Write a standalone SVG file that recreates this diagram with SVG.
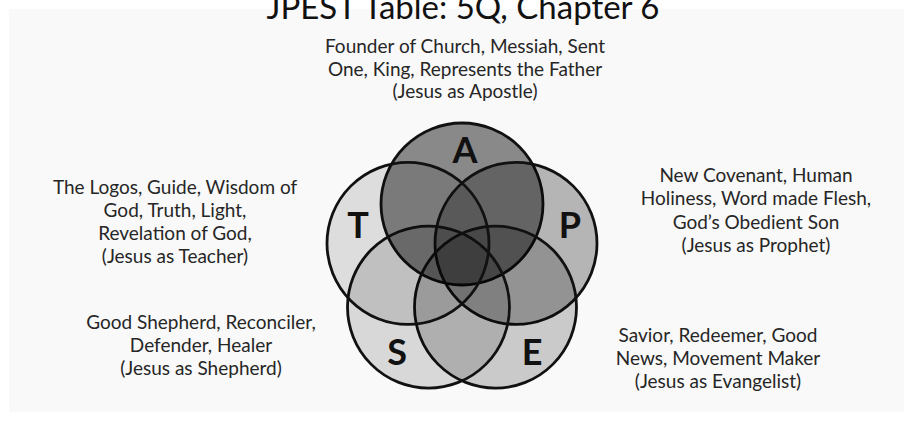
<svg xmlns="http://www.w3.org/2000/svg" width="904" height="421" viewBox="0 0 904 421">
<style>
.c{stroke:#111;stroke-width:2.8;fill:#000}
.l{font-family:Lato,"Open Sans",sans-serif;font-weight:bold;font-size:36px;fill:#111;text-anchor:middle}
.t{font-family:Lato,"Open Sans",sans-serif;font-size:19px;fill:#262626;text-anchor:middle}
.title{font-family:Lato,"Open Sans",sans-serif;font-size:33px;fill:#111;text-anchor:middle}
</style>
<rect x="0" y="0" width="904" height="421" fill="#ffffff"/>
<rect x="9" y="9" width="895" height="403" fill="#f9f9f9"/>
<text class="title" x="463" y="19">JPEST Table: 5Q, Chapter 6</text>
<g id="venn">
<g id="node-A"><circle class="c" cx="462" cy="204" r="81" fill-opacity="0.45"/><text class="l" x="465" y="163">A</text></g>
<g id="node-P"><circle class="c" cx="516" cy="243.4" r="81" fill-opacity="0.27"/></g>
<g id="node-E"><circle class="c" cx="495.5" cy="307.1" r="81" fill-opacity="0.19"/></g>
<g id="node-S"><circle class="c" cx="428.5" cy="307.1" r="81" fill-opacity="0.13"/></g>
<g id="node-T"><circle class="c" cx="408" cy="243.4" r="81" fill-opacity="0.11"/></g>
<text class="l" x="358" y="238">T</text>
<text class="l" x="570" y="238">P</text>
<text class="l" x="397" y="365">S</text>
<text class="l" x="532" y="365">E</text>
</g>
<g id="label-A"><text class="t" x="465" y="53">Founder of Church, Messiah, Sent</text><text class="t" x="465" y="76">One, King, Represents the Father</text><text class="t" x="465" y="98">(Jesus as Apostle)</text></g>
<g id="label-T"><text class="t" x="175" y="194">The Logos, Guide, Wisdom of</text><text class="t" x="175" y="217">God, Truth, Light,</text><text class="t" x="175" y="240">Revelation of God,</text><text class="t" x="175" y="263">(Jesus as Teacher)</text></g>
<g id="label-P"><text class="t" x="756" y="182">New Covenant, Human</text><text class="t" x="756" y="205">Holiness, Word made Flesh,</text><text class="t" x="756" y="229">God’s Obedient Son</text><text class="t" x="756" y="252">(Jesus as Prophet)</text></g>
<g id="label-S"><text class="t" x="201" y="329">Good Shepherd, Reconciler,</text><text class="t" x="201" y="352">Defender, Healer</text><text class="t" x="201" y="375">(Jesus as Shepherd)</text></g>
<g id="label-E"><text class="t" x="718" y="342">Savior, Redeemer, Good</text><text class="t" x="718" y="365">News, Movement Maker</text><text class="t" x="718" y="388">(Jesus as Evangelist)</text></g>
</svg>
